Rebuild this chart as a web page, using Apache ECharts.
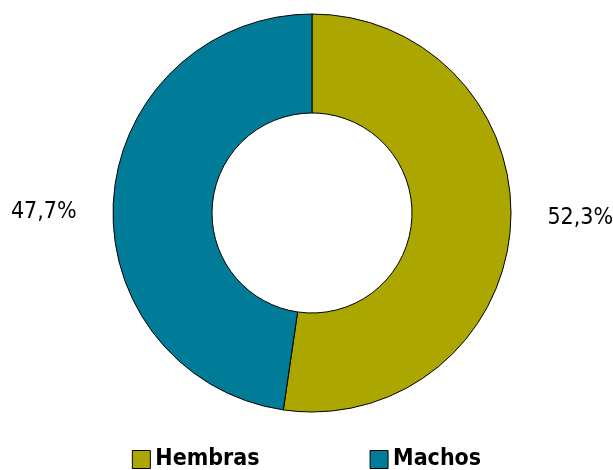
<!DOCTYPE html>
<html>
<head>
<meta charset="utf-8">
<script src="https://cdn.jsdelivr.net/npm/echarts@6/dist/echarts.min.js"></script>
<style>
  html, body { margin: 0; padding: 0; background: #ffffff; }
  #chart { width: 613px; height: 470px; }
</style>
</head>
<body>
<div id="chart"></div>
<script>
// Sex distribution (percent)
const categories = ['Hembras', 'Machos'];
const shares = [52.3, 47.7];
const colors = ['#aba600', '#017c98'];

const fontFamily = '"DejaVu Sans Condensed", "Liberation Sans Narrow", sans-serif';
const cx = 312, cy = 213;

const chart = echarts.init(document.getElementById('chart'), null, { renderer: 'canvas' });

chart.setOption({
  animation: false,
  color: colors,
  legend: {
    top: 443,
    left: 'center',
    itemWidth: 18,
    itemHeight: 18,
    itemGap: 110,
    icon: 'rect',
    itemStyle: { borderColor: '#000', borderWidth: 1 },
    textStyle: { fontFamily: fontFamily, fontSize: 23, fontWeight: 'bold', color: '#000' },
    data: categories
  },
  series: [{
    type: 'pie',
    center: [cx, cy],
    radius: [100, 199],
    startAngle: 90,
    clockwise: true,
    itemStyle: { borderColor: '#000', borderWidth: 1 },
    label: {
      show: true,
      position: 'outside',
      overflow: 'none',
      fontFamily: fontFamily,
      fontSize: 23,
      color: '#000',
      formatter: p => p.value.toFixed(1).replace('.', ',') + '%'
    },
    labelLine: { show: false, length: 32, length2: 0 },
    labelLayout: p => ({
      y: cy + (p.dataIndex === 0 ? 5 : -1),
      verticalAlign: 'middle'
    }),
    emphasis: { disabled: true },
    data: categories.map((c, i) => ({ name: c, value: shares[i] }))
  }]
});
</script>
</body>
</html>
